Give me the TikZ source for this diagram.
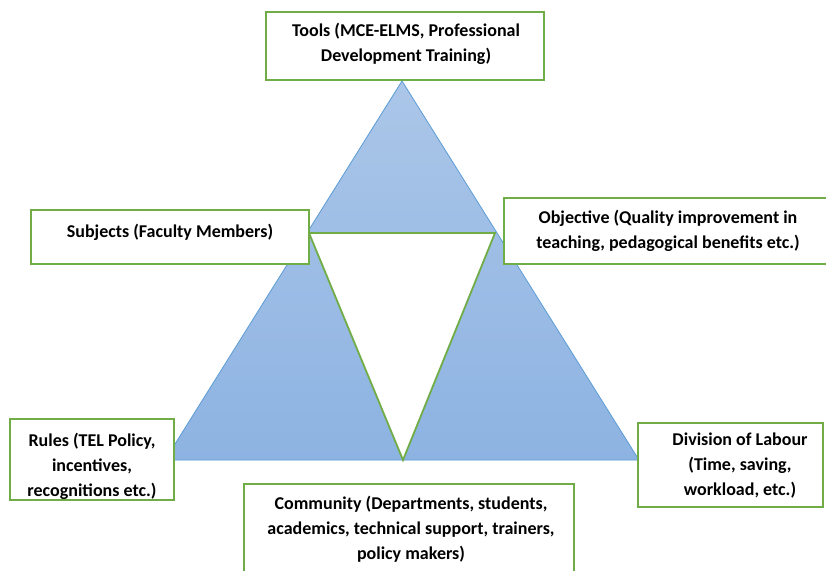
\documentclass[tikz,border=0pt]{standalone}
\usepackage{fontspec}
\setmainfont{Carlito}
\definecolor{boxgreen}{HTML}{70AD47}
\definecolor{triline}{HTML}{5B9BD5}
\definecolor{tritop}{HTML}{ABC6E8}
\definecolor{tribot}{HTML}{8DB3E2}

\begin{document}
\begin{tikzpicture}[x=1pt,y=-1pt,
  frame/.style={draw=boxgreen, line width=1.8pt, fill=white, inner sep=0pt},
  txt/.style  ={font=\bfseries\fontsize{18}{25}\selectfont, align=center, inner sep=0pt}]

  \clip (0,0) rectangle (826,570);

  % outer triangle (shaded)
  \coordinate (apex)  at (402,81);
  \coordinate (baseL) at (165,460);
  \coordinate (baseR) at (639,460);
  \shadedraw[top color=tritop, bottom color=tribot, draw=triline, line width=0.8pt]
    (apex) -- (baseR) -- (baseL) -- cycle;

  % inner white triangle, point down
  \coordinate (inL) at (309,233);
  \coordinate (inR) at (495,233);
  \coordinate (inB) at (403,460);
  \draw[boxgreen, line width=1.8pt, fill=white] (inL) -- (inR) -- (inB) -- cycle;

  % boxes
  \node[frame, minimum width=278pt, minimum height=68pt]  (tools) at (405,46)    {};
  \node[frame, minimum width=278pt, minimum height=54pt]  (subj)  at (170,237)   {};
  \node[frame, minimum width=328pt, minimum height=66pt]  (obj)   at (668,231)   {};
  \node[frame, minimum width=164pt, minimum height=81pt]  (rules) at (92,459.5)  {};
  \node[frame, minimum width=330pt, minimum height=116pt] (comm)  at (409,542)   {};
  \node[frame, minimum width=185pt, minimum height=84pt]  (div)   at (730.5,465) {};

  % texts
  \node[txt] (toolsT) at (406,44)  {Tools (MCE-ELMS, Professional\\Development Training)};
  \node[txt] (subjT)  at (170,232) {Subjects (Faculty Members)};
  \node[txt] (objT)   at (668,230.5) {Objective (Quality improvement in\\teaching, pedagogical benefits etc.)};
  \node[txt] (rulesT) at (92,466)  {Rules (TEL Policy,\\incentives,\\recognitions etc.)};
  \node[txt] (commT)  at (411,529) {Community (Departments, students,\\academics, technical support, trainers,\\policy makers)};
  \node[txt] (divT)   at (740,466) {Division of Labour\\(Time, saving,\\workload, etc.)};
\end{tikzpicture}
\end{document}
